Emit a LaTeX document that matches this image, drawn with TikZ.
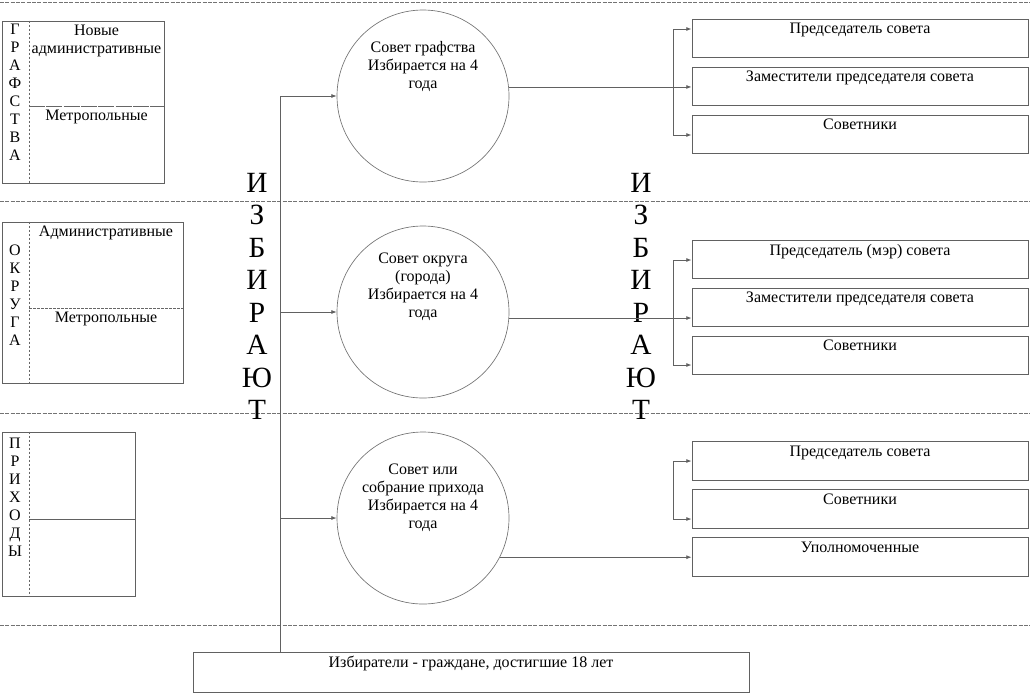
\documentclass[tikz,border=0pt]{standalone}
\usepackage{fontspec}
\setmainfont{Liberation Serif}
\usetikzlibrary{arrows.meta,calc}

\begin{document}
\begin{tikzpicture}[x=0.75pt,y=-0.75pt,font=\fontsize{12}{13.5}\selectfont,
            lin/.style={draw=black!62, line width=0.6pt},
            arr/.style={lin, -{Latex[length=4pt,width=3pt]}},
            sepline/.style={draw=black!55, line width=0.5pt, dash pattern=on 3pt off 1pt},
            thindash/.style={draw=black!60, line width=0.5pt, dash pattern=on 2pt off 1pt},
            council/.style={circle, draw=black!55, line width=0.5pt, minimum size=129pt, inner sep=0pt},
            lbox/.style={lin, rectangle, inner sep=0pt},
            rbox/.style={lin, rectangle, minimum width=252pt, minimum height=29pt, inner sep=0pt},
            toptext/.style={anchor=north, inner sep=3pt, align=center},
            letters/.style={align=center, inner sep=0pt},
            bigletters/.style={align=center, inner sep=0pt, font=\fontsize{22}{24.4}\selectfont}]
            \useasboundingbox (0,0) rectangle (1030,693);

            % separators
            \draw[sepline] (0,2) -- (1030,2);
            \draw[sepline] (0,201) -- (1030,201);
            \draw[sepline] (0,413) -- (1030,413);
            \draw[sepline] (0,625) -- (1030,625);

            % left boxes
            \node[lbox, minimum width=121.5pt, minimum height=121.5pt] (g1) at (83,102) {};
            \node[lbox, minimum width=135.75pt, minimum height=120.75pt] (g2) at (92.5,302.5) {};
            \node[lbox, minimum width=99.75pt, minimum height=123pt] (g3) at (68.5,514) {};
            \coordinate (v) at (29,0);
            \coordinate (h1) at (0,106);
            \coordinate (h2) at (0,308);
            \coordinate (h3) at (0,519);
            \draw[thindash] (v |- g1.north) -- (v |- g1.south);
            \draw[thindash] (v |- g2.north) -- (v |- g2.south);
            \draw[thindash] (v |- g3.north) -- (v |- g3.south);
            \draw[thindash, dash pattern=on 12pt off 1pt] (h1 -| v) -- (h1 -| g1.east);
            \draw[thindash] (h2 -| v) -- (h2 -| g2.east);
            \draw[lin, line width=0.5pt] (h3 -| v) -- (h3 -| g3.east);

            \node[letters] (l1) at (15,92.5) {Г\\Р\\А\\Ф\\С\\Т\\В\\А};
            \node[letters] (l2) at (15,295) {О\\К\\Р\\У\\Г\\А};
            \node[letters] (l3) at (15,497) {П\\Р\\И\\Х\\О\\Д\\Ы};
            \node[toptext] (g1a) at ($(g1.north)+(13.5,0)$) {Новые\\административные};
            \node[toptext] (g1b) at ($(h1 -| g1.north)+(13.5,0)$) {Метропольные};
            \node[toptext] (g2a) at ($(g2.north)+(13.5,0)$) {Административные};
            \node[toptext] (g2b) at ($(h2 -| g2.north)+(13.5,0)$) {Метропольные};

            % councils
            \node[council] (c1) at (423,96) {};
            \node[council] (c2) at (423,312) {};
            \node[council] (c3) at (423,518) {};
            \node[letters] (c1t) at (423,66) {Совет графства\\Избирается на 4\\года};
            \node[letters] (c2t) at (423,287) {Совет округа\\(города)\\Избирается на 4\\года};
            \node[letters] (c3t) at (423,498) {Совет или\\собрание прихода\\Избирается на 4\\года};

            \node[bigletters] (el) at (257,296.5) {И\\З\\Б\\И\\Р\\А\\Ю\\Т};
            \node[bigletters] (er) at (641,296.5) {И\\З\\Б\\И\\Р\\А\\Ю\\Т};

            % voters
            \node[lbox, minimum width=417pt, minimum height=30pt] (vot) at (471,672) {};
            \node[toptext] (vott) at (vot.north) {Избиратели - граждане, достигшие 18 лет};

            \coordinate (tk) at (280,0);
            \draw[lin] (tk |- vot.north) -- (tk |- c1.west);
            \draw[arr] (tk |- c1.west) -- (c1.west);
            \draw[arr] (tk |- c2.west) -- (c2.west);
            \draw[arr] (tk |- c3.west) -- (c3.west);

            % posts
            \node[rbox] (b11) at (860,38.5) {};
            \node[rbox] (b12) at (860,86.5) {};
            \node[rbox] (b13) at (860,134.5) {};
            \node[rbox] (b21) at (860,259.5) {};
            \node[rbox] (b22) at (860,307.5) {};
            \node[rbox] (b23) at (860,355.5) {};
            \node[rbox] (b31) at (860,461) {};
            \node[rbox] (b32) at (860,509) {};
            \node[rbox] (b33) at (860,557) {};
            \node[toptext] (b11t) at (b11.north) {Председатель совета};
            \node[toptext] (b12t) at (b12.north) {Заместители председателя совета};
            \node[toptext] (b13t) at (b13.north) {Советники};
            \node[toptext] (b21t) at (b21.north) {Председатель (мэр) совета};
            \node[toptext] (b22t) at (b22.north) {Заместители председателя совета};
            \node[toptext] (b23t) at (b23.north) {Советники};
            \node[toptext] (b31t) at (b31.north) {Председатель совета};
            \node[toptext] (b32t) at (b32.north) {Советники};
            \node[toptext] (b33t) at (b33.north) {Уполномоченные};

            \coordinate (j1) at (673,29);
            \coordinate (j3) at (673,135);
            \coordinate (j4) at (673,260);
            \coordinate (j6) at (673,365);
            \coordinate (j7) at (673,461);
            \coordinate (j8) at (673,519);

            \draw[lin] (j1) -- (j3);
            \draw[arr] (j1) -- (j1 -| b11.west);
            \draw[arr] (c1.6) -- (c1.6 -| b12.west);
            \draw[arr] (j3) -- (j3 -| b13.west);

            \draw[lin] (j4) -- (j6);
            \draw[arr] (j4) -- (j4 -| b21.west);
            \draw[arr] (c2.-4) -- (c2.-4 -| b22.west);
            \draw[arr] (j6) -- (j6 -| b23.west);

            \draw[lin] (j7) -- (j8);
            \draw[arr] (j7) -- (j7 -| b31.west);
            \draw[arr] (j8) -- (j8 -| b32.west);
            \draw[arr] (c3.-27) -- (c3.-27 -| b33.west);

        \end{tikzpicture}
\end{document}
